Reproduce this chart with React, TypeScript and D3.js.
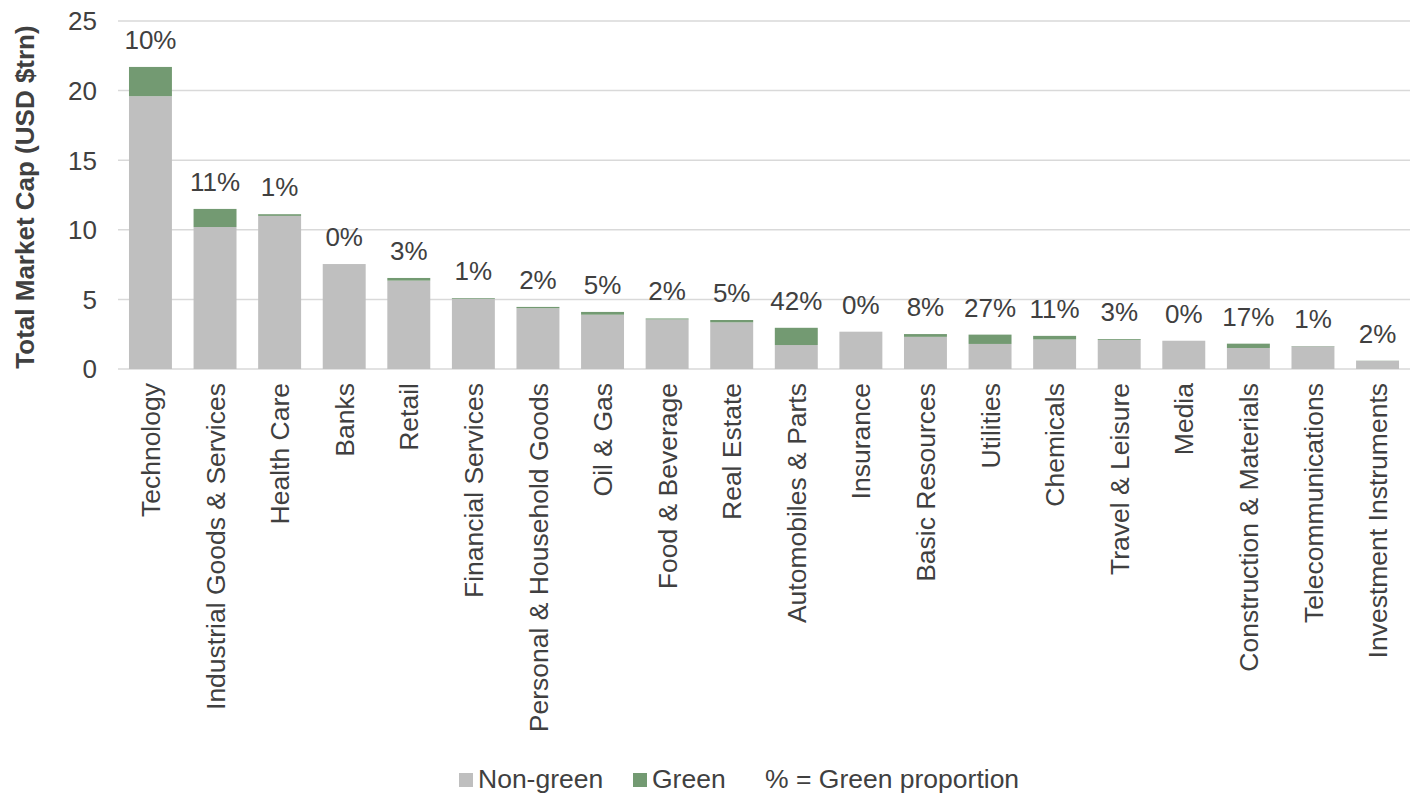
import React from "react";
import * as d3 from "d3";

const categories = [
  "Technology", "Industrial Goods & Services", "Health Care", "Banks", "Retail",
  "Financial Services", "Personal & Household Goods", "Oil & Gas", "Food & Beverage",
  "Real Estate", "Automobiles & Parts", "Insurance", "Basic Resources", "Utilities",
  "Chemicals", "Travel & Leisure", "Media", "Construction & Materials",
  "Telecommunications", "Investment Instruments",
];
const nonGreen = [19.6, 10.2, 11.0, 7.54, 6.35, 5.05, 4.37, 3.9, 3.56, 3.35, 1.72, 2.68, 2.31, 1.8, 2.12, 2.09, 2.03, 1.51, 1.63, 0.59];
const green = [2.1, 1.3, 0.12, 0.0, 0.19, 0.05, 0.09, 0.2, 0.07, 0.17, 1.24, 0.0, 0.2, 0.67, 0.26, 0.06, 0.0, 0.31, 0.02, 0.01];
const pctLabels = ["10%", "11%", "1%", "0%", "3%", "1%", "2%", "5%", "2%", "5%", "42%", "0%", "8%", "27%", "11%", "3%", "0%", "17%", "1%", "2%"];
const yTicks = [0, 5, 10, 15, 20, 25];

const W = 1421, H = 798;
const left = 118, right = 1410, top = 21, bottom = 369;
const GREY = "#bfbfbf", GREEN = "#739a72", TEXT = "#404040";
const FONT = "'Liberation Sans', Arial, sans-serif";
const FS = 26;

export default function App() {
  const x = d3.scaleBand<string>().domain(categories).range([left, right]).paddingInner(0.335).paddingOuter(0.17);
  const y = d3.scaleLinear().domain([0, 25]).range([bottom, top]);
  const bw = x.bandwidth();
  return (
    <svg width={W} height={H} style={{ position: "absolute", left: 0, top: 0, background: "#fff" }} fontFamily={FONT}>
      {yTicks.map((t) => (
        <g key={t}>
          <line x1={left} x2={right} y1={y(t)} y2={y(t)} stroke="#d9d9d9" strokeWidth={1.5} />
          <text x={97} y={y(t)} dy="0.36em" textAnchor="end" fontSize={FS} fill={TEXT}>{t}</text>
        </g>
      ))}
      {categories.map((c, i) => {
        const x0 = x(c)!;
        const cx = x0 + bw / 2;
        const total = nonGreen[i] + green[i];
        return (
          <g key={c}>
            <rect x={x0} y={y(nonGreen[i])} width={bw} height={y(0) - y(nonGreen[i])} fill={GREY} />
            {green[i] > 0 && (
              <rect x={x0} y={y(total)} width={bw} height={y(nonGreen[i]) - y(total)} fill={GREEN} />
            )}
            <text x={cx} y={y(total) - 18} textAnchor="middle" fontSize={FS} fill={TEXT}>{pctLabels[i]}</text>
            <text transform={`translate(${cx},${bottom + 14}) rotate(-90)`} dy="0.36em" textAnchor="end" fontSize={26.5} fill={TEXT}>{c}</text>
          </g>
        );
      })}
      <text transform={`translate(25,197) rotate(-90)`} dy="0.36em" textAnchor="middle" fontSize={26} fontWeight="bold" fill={TEXT}>
        Total Market Cap (USD $trn)
      </text>
      <g fontSize={26.5} fill={TEXT}>
        <rect x={459} y={773} width={14} height={14} fill={GREY} />
        <text x={478} y={788}>Non-green</text>
        <rect x={633} y={773} width={14} height={14} fill={GREEN} />
        <text x={652} y={788}>Green</text>
        <text x={765} y={788}>% = Green proportion</text>
      </g>
    </svg>
  );
}
